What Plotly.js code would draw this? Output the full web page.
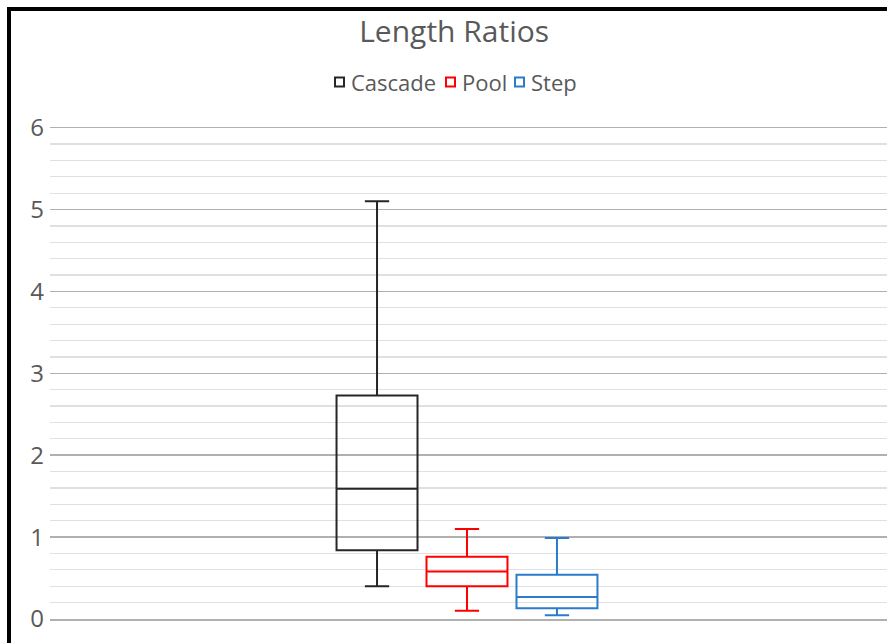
<!DOCTYPE html>
<html>
<head>
<meta charset="utf-8">
<script src="https://cdn.plot.ly/plotly-3.0.1.min.js"></script>
<style>
  html, body { margin:0; padding:0; background:#fff; overflow:hidden; }
  #wrap { position:relative; width:887px; height:643px; }
  #chart { position:absolute; left:0; top:0; width:887px; height:643px; }
  #frame { position:absolute; left:7px; top:7px; width:900px; height:700px;
           border-left:4px solid #000; border-top:4px solid #000; pointer-events:none; }
</style>
</head>
<body>
<div id="wrap">
  <div id="chart"></div>
  <div id="frame"></div>
</div>
<script>
// Data
const category = ["Length Ratios"];
const seriesNames = ["Cascade", "Pool", "Step"];
const lowerWhisker = [0.40, 0.10, 0.045];
const q1Values     = [0.84, 0.40, 0.13];
const medianValues = [1.59, 0.58, 0.27];
const q3Values     = [2.73, 0.76, 0.54];
const upperWhisker = [5.10, 1.10, 0.99];
const yTicks = [0, 1, 2, 3, 4, 5, 6];

const colors = ["#262626", "#FF0000", "#2A7CCB"];
const FONT = "Open Sans, Liberation Sans, sans-serif";

// plot area geometry (pixels)
const W = 887, H = 643;
const M = { l: 50, r: 0, t: 126, b: 24 };
const plotW = W - M.l - M.r, plotH = H - M.t - M.b;
const px2paperX = px => (px - M.l) / plotW;
const px2paperY = py => (H - M.b - py) / plotH;

const traces = seriesNames.map((name, i) => ({
  type: "box",
  name: name,
  x: category,
  q1: [q1Values[i]],
  median: [medianValues[i]],
  q3: [q3Values[i]],
  lowerfence: [lowerWhisker[i]],
  upperfence: [upperWhisker[i]],
  line: { color: colors[i], width: 2 },
  fillcolor: "rgba(0,0,0,0)",
  whiskerwidth: 0.3,
  boxpoints: false,
  hoverinfo: "skip"
}));

// custom legend (Excel-style: small square outline followed closely by the label)
const legendIconLeft = [335, 446, 515];
const legendTextLeft = [349, 460, 529];
const legendY = 82, iconSize = 9;
const shapes = seriesNames.map((n, i) => ({
  type: "rect",
  xref: "paper", yref: "paper",
  x0: px2paperX(legendIconLeft[i]), x1: px2paperX(legendIconLeft[i] + iconSize),
  y0: px2paperY(legendY - iconSize / 2), y1: px2paperY(legendY + iconSize / 2),
  line: { color: colors[i], width: 2 },
  fillcolor: "rgba(0,0,0,0)"
}));
const annotations = seriesNames.map((n, i) => ({
  text: n,
  xref: "paper", yref: "paper",
  x: px2paperX(legendTextLeft[i]), xanchor: "left",
  y: px2paperY(legendY), yanchor: "middle",
  showarrow: false,
  font: { family: FONT, size: 22, color: "#595959" }
}));

const layout = {
  width: W,
  height: H,
  paper_bgcolor: "#ffffff",
  plot_bgcolor: "#ffffff",
  margin: M,
  boxmode: "group",
  boxgap: 0.6775,
  boxgroupgap: 0.1,
  title: {
    text: "Length Ratios",
    font: { family: FONT, size: 30, color: "#595959" },
    xref: "container", x: 0.512, xanchor: "center",
    yref: "container", y: 1 - 31 / 643, yanchor: "middle"
  },
  showlegend: false,
  shapes: shapes,
  annotations: annotations,
  xaxis: {
    type: "category",
    range: [-0.4982, 0.5018],
    showticklabels: false,
    showgrid: false,
    zeroline: false,
    showline: true,
    linecolor: "#b0b0b0",
    linewidth: 1.5,
    ticks: "",
    fixedrange: true
  },
  yaxis: {
    range: [0, 6.02],
    tickvals: yTicks,
    ticktext: yTicks.map(String),
    ticks: "",
    showline: false,
    zeroline: false,
    showgrid: true,
    gridcolor: "#b0b0b0",
    gridwidth: 1.5,
    minor: { dtick: 0.2, showgrid: true, gridcolor: "#e0e0e0", gridwidth: 1.2, ticks: "" },
    tickfont: { family: FONT, size: 24, color: "#595959" },
    ticklabelstandoff: 5,
    fixedrange: true
  }
};

Plotly.newPlot("chart", traces, layout, { displayModeBar: false, staticPlot: true });
</script>
</body>
</html>
